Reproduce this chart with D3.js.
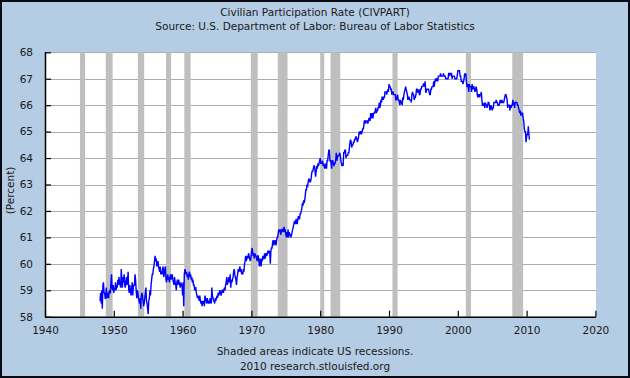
<!DOCTYPE html>
<html>
<head>
<meta charset="utf-8">
<script src="https://cdn.jsdelivr.net/npm/d3@7"></script>
<style>
  html, body { margin: 0; padding: 0; background: #b4cce4; }
  svg { display: block; }
  text { font-family: "DejaVu Sans", Verdana, sans-serif; fill: #1a1a1a; }
</style>
</head>
<body>
<svg id="chart" width="630" height="378"></svg>
<script>
// ---------- DATA ----------
const titleText = "Civilian Participation Rate (CIVPART)";
const subtitleText = "Source: U.S. Department of Labor: Bureau of Labor Statistics";
const footnote1 = "Shaded areas indicate US recessions.";
const footnote2 = "2010 research.stlouisfed.org";
const yAxisLabel = "(Percent)";

const xTicks = [1940, 1950, 1960, 1970, 1980, 1990, 2000, 2010, 2020];
const yTicks = [58, 59, 60, 61, 62, 63, 64, 65, 66, 67, 68];

// NBER recessions: [peak month, trough month]
const recessions = [
  ["1945-02", "1945-10"], ["1948-11", "1949-10"], ["1953-07", "1954-05"],
  ["1957-08", "1958-04"], ["1960-04", "1961-02"], ["1969-12", "1970-11"],
  ["1973-11", "1975-03"], ["1980-01", "1980-07"], ["1981-07", "1982-11"],
  ["1990-07", "1991-03"], ["2001-03", "2001-11"], ["2007-12", "2009-06"]
];

// Monthly civilian participation rate (percent), Jan 1948 onward
const seriesStart = 1948;
const civpart = [
  58.6, 58.9, 58.5, 59.0, 58.3, 59.2, 59.3, 58.9, 58.9, 58.7, 58.7, 59.1, // 1948
  58.7, 58.9, 58.8, 58.7, 59.0, 58.9, 58.9, 59.3, 59.6, 59.1, 59.0, 59.2, // 1949
  58.9, 59.1, 59.0, 59.3, 59.0, 59.2, 59.1, 59.4, 59.2, 59.5, 59.3, 59.2, // 1950
  59.1, 59.8, 59.4, 59.1, 59.5, 59.3, 59.6, 59.2, 59.1, 59.3, 59.5, 59.2, // 1951
  59.4, 59.7, 59.0, 58.9, 59.2, 59.0, 58.8, 59.0, 59.3, 58.8, 59.1, 59.2, // 1952
  59.2, 59.6, 59.4, 59.0, 58.7, 59.0, 58.9, 58.7, 58.6, 58.5, 58.7, 58.3, // 1953
  58.8, 58.9, 58.8, 58.6, 58.4, 58.5, 58.7, 58.9, 59.1, 58.6, 58.5, 58.3, // 1954
  58.1, 58.6, 58.7, 59.0, 58.8, 59.2, 59.4, 59.6, 59.6, 59.8, 59.9, 60.1, // 1955
  60.3, 60.1, 60.2, 59.9, 60.0, 60.1, 59.9, 59.8, 59.7, 59.9, 59.6, 59.7, // 1956
  59.6, 59.8, 59.9, 59.5, 59.6, 59.8, 59.9, 59.4, 59.3, 59.5, 59.6, 59.4, // 1957
  59.5, 59.3, 59.5, 59.6, 59.4, 59.5, 59.6, 59.4, 59.3, 59.2, 59.5, 59.3, // 1958
  59.2, 59.0, 59.3, 59.4, 59.2, 59.4, 59.3, 59.2, 59.1, 59.3, 59.2, 59.2, // 1959
  58.8, 59.3, 58.4, 59.6, 59.8, 59.7, 59.6, 59.7, 59.5, 59.6, 59.4, 59.6, // 1960
  59.7, 59.5, 59.6, 59.4, 59.5, 59.3, 59.4, 59.2, 59.2, 59.0, 59.1, 59.1, // 1961
  58.9, 58.8, 58.7, 58.8, 58.7, 58.6, 58.8, 58.6, 58.5, 58.6, 58.4, 58.6, // 1962
  58.5, 58.6, 58.4, 58.8, 58.7, 58.6, 58.5, 58.7, 58.6, 58.5, 58.6, 58.5, // 1963
  58.7, 58.6, 58.5, 59.1, 58.8, 58.7, 58.6, 58.6, 58.5, 58.7, 58.6, 58.7, // 1964
  58.8, 58.7, 58.9, 58.8, 58.9, 59.0, 58.9, 58.8, 58.9, 59.0, 59.0, 58.9, // 1965
  59.0, 59.1, 59.0, 59.2, 59.3, 59.5, 59.2, 59.3, 59.4, 59.5, 59.3, 59.6, // 1966
  59.1, 59.4, 59.3, 59.4, 59.5, 59.7, 59.8, 59.6, 59.5, 59.4, 59.2, 59.5, // 1967
  59.6, 59.8, 59.7, 59.8, 59.9, 59.7, 59.8, 59.6, 59.7, 59.6, 59.8, 59.7, // 1968
  60.0, 60.1, 60.3, 60.1, 60.2, 60.3, 60.2, 60.4, 60.3, 60.2, 60.1, 60.2, // 1969
  60.4, 60.6, 60.5, 60.3, 60.4, 60.2, 60.4, 60.3, 60.3, 60.2, 60.1, 60.3, // 1970
  60.3, 60.1, 59.9, 60.2, 60.1, 59.9, 60.2, 60.1, 60.3, 60.2, 60.2, 60.4, // 1971
  60.2, 60.3, 60.4, 60.3, 60.4, 60.5, 60.4, 60.5, 60.4, 60.0, 60.5, 60.6, // 1972
  60.6, 60.8, 60.9, 60.7, 60.8, 60.9, 60.8, 60.7, 60.9, 61.0, 61.0, 61.2, // 1973
  61.3, 61.2, 61.3, 61.1, 61.2, 61.3, 61.3, 61.2, 61.3, 61.4, 61.2, 61.3, // 1974
  61.1, 61.0, 61.2, 61.0, 61.3, 61.0, 61.2, 61.1, 61.1, 61.0, 61.1, 61.2, // 1975
  61.3, 61.4, 61.5, 61.6, 61.6, 61.5, 61.7, 61.6, 61.5, 61.7, 61.8, 61.7, // 1976
  61.7, 61.9, 61.9, 62.0, 62.1, 62.3, 62.2, 62.4, 62.3, 62.4, 62.6, 62.8, // 1977
  62.8, 63.0, 62.9, 63.1, 63.2, 63.2, 63.1, 63.1, 63.2, 63.4, 63.5, 63.5, // 1978
  63.6, 63.7, 63.7, 63.5, 63.3, 63.5, 63.7, 63.6, 63.8, 63.7, 63.8, 63.9, // 1979
  64.0, 63.8, 63.8, 63.8, 63.9, 63.7, 63.8, 63.7, 63.6, 63.7, 63.8, 63.6, // 1980
  63.9, 63.9, 64.1, 64.3, 64.3, 63.9, 63.9, 63.8, 63.6, 63.9, 63.9, 63.8, // 1981
  63.7, 63.8, 63.8, 63.9, 64.2, 63.9, 64.0, 64.1, 64.1, 64.1, 64.2, 64.1, // 1982
  63.9, 63.8, 63.7, 63.8, 63.7, 64.2, 64.2, 64.3, 64.3, 64.0, 64.1, 64.1, // 1983
  64.1, 64.2, 64.2, 64.4, 64.6, 64.7, 64.6, 64.4, 64.5, 64.5, 64.6, 64.6, // 1984
  64.7, 64.7, 64.8, 64.8, 64.7, 64.6, 64.7, 64.8, 65.0, 64.9, 65.0, 65.0, // 1985
  64.9, 65.0, 65.1, 65.1, 65.2, 65.4, 65.4, 65.3, 65.4, 65.4, 65.4, 65.3, // 1986
  65.4, 65.5, 65.5, 65.4, 65.7, 65.5, 65.6, 65.7, 65.5, 65.7, 65.7, 65.7, // 1987
  65.8, 65.9, 65.7, 65.8, 65.8, 65.9, 65.9, 66.1, 65.9, 66.0, 66.2, 66.1, // 1988
  66.3, 66.3, 66.2, 66.3, 66.3, 66.5, 66.5, 66.5, 66.4, 66.5, 66.6, 66.5, // 1989
  66.8, 66.7, 66.7, 66.6, 66.6, 66.4, 66.5, 66.5, 66.4, 66.4, 66.4, 66.4, // 1990
  66.2, 66.2, 66.3, 66.4, 66.2, 66.2, 66.1, 66.0, 66.2, 66.1, 66.1, 66.0, // 1991
  66.3, 66.2, 66.4, 66.5, 66.6, 66.7, 66.6, 66.5, 66.4, 66.2, 66.3, 66.3, // 1992
  66.2, 66.2, 66.2, 66.1, 66.4, 66.5, 66.4, 66.4, 66.2, 66.3, 66.3, 66.4, // 1993
  66.6, 66.6, 66.5, 66.5, 66.6, 66.4, 66.4, 66.6, 66.6, 66.7, 66.7, 66.7, // 1994
  66.8, 66.8, 66.7, 66.9, 66.5, 66.5, 66.6, 66.6, 66.6, 66.6, 66.5, 66.4, // 1995
  66.4, 66.6, 66.6, 66.7, 66.7, 66.7, 66.9, 66.7, 66.9, 67.0, 66.9, 67.0, // 1996
  67.0, 66.9, 67.1, 67.1, 67.1, 67.1, 67.2, 67.1, 67.1, 67.1, 67.1, 67.2, // 1997
  67.1, 67.1, 67.1, 67.0, 67.0, 67.0, 67.0, 67.0, 67.2, 67.2, 67.1, 67.2, // 1998
  67.2, 67.2, 67.0, 67.1, 67.1, 67.1, 67.1, 67.0, 67.0, 67.0, 67.0, 67.1, // 1999
  67.3, 67.3, 67.3, 67.3, 67.1, 67.1, 66.9, 66.9, 66.9, 66.8, 66.9, 67.0, // 2000
  67.2, 67.1, 67.2, 66.9, 66.7, 66.7, 66.8, 66.5, 66.8, 66.7, 66.7, 66.7, // 2001
  66.5, 66.8, 66.6, 66.7, 66.7, 66.6, 66.5, 66.6, 66.7, 66.6, 66.4, 66.3, // 2002
  66.4, 66.4, 66.3, 66.4, 66.4, 66.5, 66.2, 66.0, 66.0, 66.0, 66.1, 65.9, // 2003
  66.1, 66.0, 66.0, 65.9, 66.0, 66.1, 66.1, 66.0, 65.8, 65.9, 66.0, 65.9, // 2004
  65.8, 65.9, 65.9, 66.1, 66.1, 66.1, 66.1, 66.2, 66.1, 66.1, 66.0, 66.0, // 2005
  66.0, 66.1, 66.2, 66.1, 66.1, 66.2, 66.1, 66.1, 66.1, 66.2, 66.3, 66.4, // 2006
  66.4, 66.3, 66.2, 65.9, 66.0, 66.0, 66.0, 65.8, 66.0, 65.9, 66.0, 66.0, // 2007
  66.2, 66.0, 66.1, 65.9, 66.1, 66.1, 66.1, 66.1, 66.0, 66.0, 65.9, 65.8, // 2008
  65.7, 65.8, 65.6, 65.7, 65.7, 65.7, 65.5, 65.4, 65.1, 65.0, 65.0, 64.6, // 2009
  64.8, 64.9, 64.9, 65.2, 64.9, 64.7                                      // 2010
];

// ---------- LAYOUT ----------
const W = 630, H = 378;
const plot = { left: 45, right: 596, top: 52.3, bottom: 316.7 };

const svg = d3.select("#chart");

// background + frame
svg.append("rect").attr("x", 0).attr("y", 0).attr("width", W).attr("height", H)
  .attr("fill", "#b4cce4");
svg.append("rect").attr("x", 1).attr("y", 1).attr("width", W - 2).attr("height", H - 2)
  .attr("fill", "none").attr("stroke", "#0a0a14").attr("stroke-width", 2);

const x = d3.scaleLinear().domain([1940, 2020]).range([plot.left, plot.left + (2020 - 1940) * 6.88]);
const y = d3.scaleLinear().domain([58, 68]).range([plot.bottom, plot.top]);

// plot area
svg.append("rect")
  .attr("x", plot.left).attr("y", plot.top)
  .attr("width", plot.right - plot.left).attr("height", plot.bottom - plot.top)
  .attr("fill", "#ffffff");

// gridlines
svg.append("g").selectAll("line").data(yTicks.filter(d => d > 58)).join("line")
  .attr("x1", plot.left).attr("x2", plot.right)
  .attr("y1", d => Math.round(y(d)) + 0.5).attr("y2", d => Math.round(y(d)) + 0.5)
  .attr("stroke", "#acacac").attr("stroke-width", 1);

// recession bands
const ym = s => { const [yy, mm] = s.split("-").map(Number); return yy + (mm - 1) / 12; };
svg.append("g").selectAll("rect").data(recessions).join("rect")
  .attr("x", d => x(ym(d[0])))
  .attr("width", d => x(ym(d[1]) + 1 / 12) - x(ym(d[0])))
  .attr("y", plot.top).attr("height", plot.bottom - plot.top)
  .attr("fill", "#bfbfbf");

// line
const points = civpart.map((v, i) => ({ t: seriesStart + i / 12, v }));
svg.append("path")
  .datum(points)
  .attr("fill", "none")
  .attr("stroke", "#0000ff")
  .attr("stroke-width", 1.4)
  .attr("stroke-linejoin", "miter")
  .attr("d", d3.line().x(d => x(d.t)).y(d => y(d.v)));

// axes
const yAxis = d3.axisLeft(y).tickValues(yTicks).tickSize(-6).tickPadding(12).tickFormat(d3.format("d"));
const gy = svg.append("g").attr("transform", `translate(${plot.left},0)`).call(yAxis);
gy.select(".domain").attr("stroke", "#000").attr("stroke-width", 1.5)
  .attr("d", `M0.5,${plot.top}V${plot.bottom}`);
gy.selectAll(".tick line").attr("stroke", "#000").attr("stroke-width", 1.2);
gy.selectAll(".tick text").attr("font-size", 10.5).attr("fill", "#1a1a1a")
  .attr("font-family", "DejaVu Sans, sans-serif");

const xAxis = d3.axisBottom(x).tickValues(xTicks).tickSize(-6).tickPadding(10).tickFormat(d3.format("d"));
const gx = svg.append("g").attr("transform", `translate(0,${plot.bottom})`).call(xAxis);
gx.select(".domain").attr("stroke", "#000").attr("stroke-width", 1.5)
  .attr("d", `M${plot.left},0.5H${plot.right}`);
gx.selectAll(".tick line").attr("stroke", "#000").attr("stroke-width", 1.2);
gx.selectAll(".tick text").attr("font-size", 10.5).attr("fill", "#1a1a1a")
  .attr("font-family", "DejaVu Sans, sans-serif");

// titles
svg.append("text").attr("x", 315).attr("y", 16).attr("text-anchor", "middle")
  .attr("font-size", 10.5).text(titleText);
svg.append("text").attr("x", 315).attr("y", 30).attr("text-anchor", "middle")
  .attr("font-size", 10.5).text(subtitleText);
svg.append("text").attr("x", 315).attr("y", 355).attr("text-anchor", "middle")
  .attr("font-size", 10.5).text(footnote1);
svg.append("text").attr("x", 315).attr("y", 370).attr("text-anchor", "middle")
  .attr("font-size", 10.5).text(footnote2);
svg.append("text")
  .attr("transform", `translate(14,${(plot.top + plot.bottom) / 2 + 6}) rotate(-90)`)
  .attr("text-anchor", "middle").attr("font-size", 10.5).text(yAxisLabel);
</script>
</body>
</html>
